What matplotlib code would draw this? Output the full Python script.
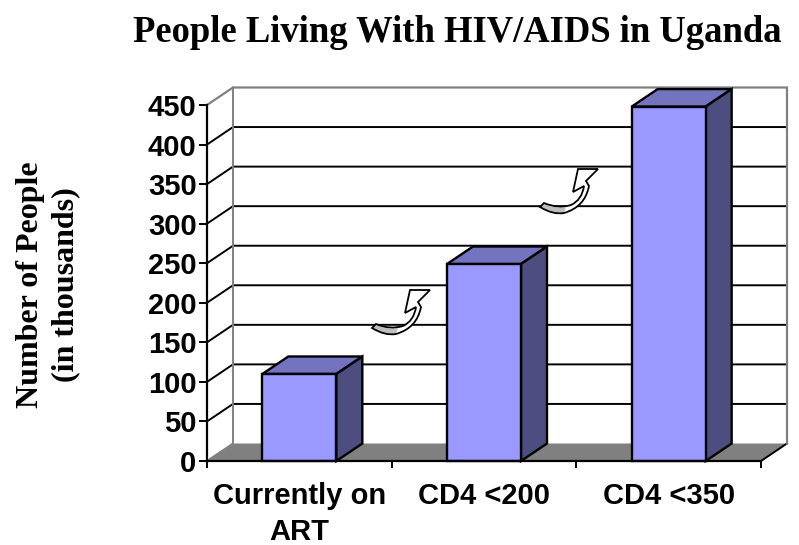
import matplotlib
matplotlib.use("Agg")
import matplotlib.pyplot as plt
from matplotlib.path import Path
from matplotlib.patches import PathPatch
from matplotlib.transforms import Affine2D

categories = ["Currently on\nART", "CD4 <200", "CD4 <350"]
values = [110, 249, 448]
y_ticks = [0, 50, 100, 150, 200, 250, 300, 350, 400, 450]
title = "People Living With HIV/AIDS in Uganda"
ylabel = "Number of People\n(in thousands)"

W, H = 799, 545
FRONT, TOP, SIDE = "#9999FF", "#7373BF", "#4D4D80"
SANS = "Liberation Sans"
SERIF = "Liberation Serif"

fig = plt.figure(figsize=(W / 100, H / 100), dpi=100, facecolor="white")
L, R, T, B = 207, 761, 105, 461
ax = fig.add_axes([L / W, 1 - B / H, (R - L) / W, (B - T) / H])
ax.set_xlim(0, 3)
ax.set_ylim(0, 450)
ax.patch.set_visible(False)

# 3-D depth expressed in data units
ddx = 26 / (R - L) * 3
ddy = 17.5 / (B - T) * 450
bar_w = 74 / (R - L) * 3

# floor
ax.fill([0, 3, 3 + ddx, ddx], [0, 0, ddy, ddy], color="#808080", lw=0, clip_on=False, zorder=1)
# grid lines on back wall and side wall
for v in y_ticks[1:-1]:
    ax.plot([0, ddx, 3 + ddx], [v, v + ddy, v + ddy], color="black", lw=1.4, clip_on=False, zorder=2,
            solid_joinstyle="miter")
# wall borders
ax.plot([0, ddx, ddx], [0, ddy, 450 + ddy], color="#808080", lw=1.4, clip_on=False, zorder=3)
ax.plot([3, 3 + ddx], [0, ddy], color="black", lw=1.4, clip_on=False, zorder=3)
ax.plot([0, ddx, 3 + ddx, 3 + ddx], [450, 450 + ddy, 450 + ddy, ddy], color="#808080", lw=1.6,
        clip_on=False, zorder=3, solid_joinstyle="miter")

# bars
for i, v in enumerate(values):
    c = i + 0.5
    x0, x1 = c - bar_w / 2, c + bar_w / 2
    ax.fill([x0, x1, x1 + ddx, x0 + ddx], [v, v, v + ddy, v + ddy], facecolor=TOP, edgecolor="black",
            lw=1.7, clip_on=False, zorder=4, joinstyle="miter")
    ax.fill([x1, x1 + ddx, x1 + ddx, x1], [0, ddy, v + ddy, v], facecolor=SIDE, edgecolor="black",
            lw=1.7, clip_on=False, zorder=4, joinstyle="miter")
    ax.bar(c, v, width=bar_w, color=FRONT, edgecolor="black", lw=1.7, clip_on=False, zorder=5)

for s in ("top", "right"):
    ax.spines[s].set_visible(False)
for s in ("left", "bottom"):
    ax.spines[s].set_linewidth(1.6)
    ax.spines[s].set_zorder(6)

ax.set_yticks(y_ticks)
ax.set_yticklabels([str(v) for v in y_ticks], fontfamily=SANS, fontweight="bold", fontsize=21)
ax.tick_params(axis="y", length=6, width=1.4, pad=1.5)
ax.set_xticks([0, 1, 2, 3])
ax.set_xticklabels([])
ax.tick_params(axis="x", which="major", length=5, width=1.4)
ax.set_xticks([0.5, 1.5, 2.5], minor=True)
ax.set_xticklabels(categories, minor=True, fontfamily=SANS, fontweight="bold", fontsize=21, linespacing=1.35)
ax.tick_params(axis="x", which="minor", length=0, pad=15)

fig.text(457.5 / W, 1 - 32 / H, title, ha="center", va="center", fontfamily=SERIF, fontweight="bold", fontsize=26.4)
fig.text(48 / W, 1 - 285 / H, ylabel, ha="center", va="center", rotation=90, fontfamily=SERIF,
         fontweight="bold", fontsize=23, linespacing=1.3, multialignment="center")

# decorative curved arrows, in pixel space
pix = Affine2D().scale(1, -1).translate(0, H)
M, C3, LN, CL = Path.MOVETO, Path.CURVE3, Path.LINETO, Path.CLOSEPOLY
outline = [((372, 328), M), ((385, 336), C3), ((396, 334), C3), ((417, 328), C3), ((421, 307), C3),
           ((418, 302), LN), ((430, 290), LN), ((410, 290), LN), ((405, 313), LN), ((416, 307), LN),
           ((414, 321), C3), ((403, 326), C3), ((390, 330), C3), ((376, 324), C3), ((372, 328), CL)]
tail = [((372, 328), M), ((385, 336), C3), ((396, 334), C3), ((398, 328), LN),
        ((387, 330), C3), ((376, 324), C3), ((372, 328), CL)]
for off in [(0, 0), (168, -121)]:
    t = Affine2D().translate(*off) + pix
    for pts, fc, ec, lw, z in ((outline, "white", "none", 0, 10), (tail, "#BEBEBE", "none", 0, 11),
                               (outline, "none", "black", 1.3, 12)):
        p = Path([q[0] for q in pts], [q[1] for q in pts])
        fig.add_artist(PathPatch(p, facecolor=fc, edgecolor=ec, lw=lw, transform=t, zorder=z))

fig.savefig("out.png", dpi=100)
